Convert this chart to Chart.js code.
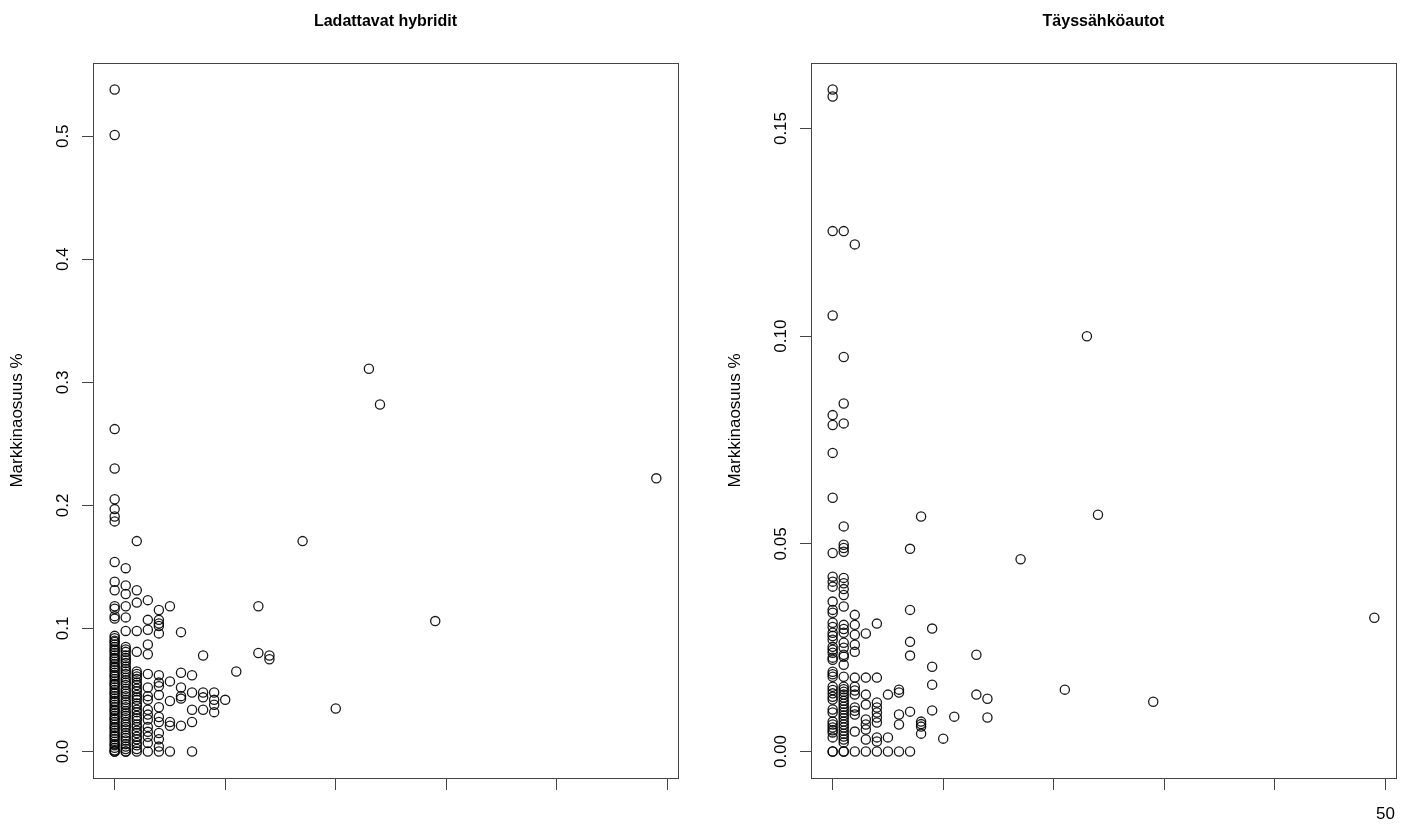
<!DOCTYPE html>
<html>
<head>
<meta charset="utf-8">
<script src="https://cdn.jsdelivr.net/npm/chart.js@4.4.0/dist/chart.umd.min.js"></script>
<style>
html, body { margin: 0; padding: 0; background: #fff; overflow: hidden; }
canvas { position: absolute; top: 0; }
#c1 { left: 0; }
#c2 { left: 718px; }
</style>
</head>
<body>
<canvas id="c1" width="705" height="829"></canvas>
<canvas id="c2" width="693" height="829"></canvas>
<script>
// Ladattavat hybridit: [x, markkinaosuus %]
const phevData = [
    [0, 0.538], [0, 0.501], [0, 0.262], [0, 0.230], [0, 0.205], [0, 0.197], [0, 0.191], [0, 0.187],
    [0, 0.154], [0, 0.138], [0, 0.131], [0, 0.118], [0, 0.116], [0, 0.110], [0, 0.108],
    [0, 0.094], [0, 0.092], [0, 0.090], [0, 0.089], [0, 0.087], [0, 0.085], [0, 0.083], [0, 0.082],
    [0, 0.080], [0, 0.078], [0, 0.076], [0, 0.075], [0, 0.073], [0, 0.071], [0, 0.069], [0, 0.068],
    [0, 0.066], [0, 0.064], [0, 0.062], [0, 0.061], [0, 0.059], [0, 0.057], [0, 0.055], [0, 0.054],
    [0, 0.052], [0, 0.050], [0, 0.048], [0, 0.047], [0, 0.045], [0, 0.043], [0, 0.041], [0, 0.040],
    [0, 0.038], [0, 0.036], [0, 0.034], [0, 0.033], [0, 0.031], [0, 0.029], [0, 0.027], [0, 0.026],
    [0, 0.024], [0, 0.022], [0, 0.020], [0, 0.019], [0, 0.017], [0, 0.015], [0, 0.013], [0, 0.012],
    [0, 0.010], [0, 0.008], [0, 0.006], [0, 0.005], [0, 0.003], [0, 0.001], [0, 0], [0, 0],
    [1, 0.149], [1, 0.135], [1, 0.128], [1, 0.118], [1, 0.109], [1, 0.098],
    [1, 0.085], [1, 0.083], [1, 0.081], [1, 0.078], [1, 0.076], [1, 0.074], [1, 0.072], [1, 0.069],
    [1, 0.067], [1, 0.065], [1, 0.063], [1, 0.060], [1, 0.058], [1, 0.056], [1, 0.054], [1, 0.051],
    [1, 0.049], [1, 0.047], [1, 0.045], [1, 0.042], [1, 0.040], [1, 0.038], [1, 0.036], [1, 0.033],
    [1, 0.031], [1, 0.029], [1, 0.027], [1, 0.024], [1, 0.022], [1, 0.020], [1, 0.018], [1, 0.015],
    [1, 0.013], [1, 0.011], [1, 0.009], [1, 0.006], [1, 0.004], [1, 0.002], [1, 0], [1, 0],
    [2, 0.171], [2, 0.131], [2, 0.121], [2, 0.098], [2, 0.081],
    [2, 0.065], [2, 0.063], [2, 0.061], [2, 0.059], [2, 0.056], [2, 0.054], [2, 0.051], [2, 0.049],
    [2, 0.046], [2, 0.044], [2, 0.042], [2, 0.039], [2, 0.037], [2, 0.034], [2, 0.032], [2, 0.029],
    [2, 0.027], [2, 0.025], [2, 0.022], [2, 0.020], [2, 0.017], [2, 0.015], [2, 0.012], [2, 0.010],
    [2, 0.007], [2, 0.005], [2, 0.002], [2, 0],
    [3, 0.123], [3, 0.107], [3, 0.099], [3, 0.087], [3, 0.079], [3, 0.063], [3, 0.052], [3, 0.045],
    [3, 0.042], [3, 0.034], [3, 0.030], [3, 0.026], [3, 0.020], [3, 0.016], [3, 0.012], [3, 0.007], [3, 0],
    [4, 0.115], [4, 0.107], [4, 0.104], [4, 0.102], [4, 0.096], [4, 0.062], [4, 0.056], [4, 0.053],
    [4, 0.046], [4, 0.036], [4, 0.028], [4, 0.024], [4, 0.015], [4, 0.010], [4, 0.004], [4, 0],
    [5, 0.118], [5, 0.057], [5, 0.041], [5, 0.024], [5, 0.021], [5, 0],
    [6, 0.097], [6, 0.064], [6, 0.052], [6, 0.045], [6, 0.043], [6, 0.021],
    [7, 0.062], [7, 0.048], [7, 0.034], [7, 0.024], [7, 0],
    [8, 0.078], [8, 0.048], [8, 0.044], [8, 0.034],
    [9, 0.048], [9, 0.042], [9, 0.038], [9, 0.032],
    [10, 0.042], [11, 0.065], [13, 0.118], [13, 0.080], [14, 0.078], [14, 0.075],
    [17, 0.171], [20, 0.035], [23, 0.311], [24, 0.282], [29, 0.106], [49, 0.222]
];

// Täyssähköautot: [x, markkinaosuus %]
const bevData = [
    [0, 0.1594], [0, 0.1577], [0, 0.1253], [0, 0.1050], [0, 0.0810], [0, 0.0786], [0, 0.0719], [0, 0.0611],
    [0, 0.0478], [0, 0.0421], [0, 0.0409], [0, 0.0397], [0, 0.0361], [0, 0.0341], [0, 0.0334], [0, 0.0310],
    [0, 0.0300], [0, 0.0286], [0, 0.0278], [0, 0.0269], [0, 0.0252], [0, 0.0245], [0, 0.0238], [0, 0.0226],
    [0, 0.0221], [0, 0.0192], [0, 0.0186], [0, 0.0180], [0, 0.0156], [0, 0.0148], [0, 0.0140], [0, 0.0132],
    [0, 0.0125], [0, 0.0101], [0, 0.0094], [0, 0.0072], [0, 0.0065], [0, 0.0058], [0, 0.0051], [0, 0.0046],
    [0, 0.0034], [0, 0], [0, 0],
    [1, 0.1253], [1, 0.0950], [1, 0.0838], [1, 0.0790], [1, 0.0542], [1, 0.0498], [1, 0.0490], [1, 0.0481],
    [1, 0.0418], [1, 0.0405], [1, 0.0391], [1, 0.0377], [1, 0.0349], [1, 0.0305], [1, 0.0295], [1, 0.0286],
    [1, 0.0262], [1, 0.0250], [1, 0.0233], [1, 0.0228], [1, 0.0209], [1, 0.0180], [1, 0.0156], [1, 0.0150],
    [1, 0.0144], [1, 0.0137], [1, 0.0130], [1, 0.0122], [1, 0.0115], [1, 0.0108], [1, 0.0101], [1, 0.0094],
    [1, 0.0087], [1, 0.0080], [1, 0.0072], [1, 0.0065], [1, 0.0058], [1, 0.0050], [1, 0.0043], [1, 0.0036],
    [1, 0.0029], [1, 0.0022], [1, 0], [1, 0],
    [2, 0.1221], [2, 0.0329], [2, 0.0305], [2, 0.0281], [2, 0.0257], [2, 0.0240], [2, 0.0178], [2, 0.0156],
    [2, 0.0147], [2, 0.0137], [2, 0.0106], [2, 0.0098], [2, 0.0089], [2, 0.0048], [2, 0],
    [3, 0.0284], [3, 0.0178], [3, 0.0137], [3, 0.0113], [3, 0.0077], [3, 0.0065], [3, 0.0053], [3, 0.0029], [3, 0],
    [4, 0.0308], [4, 0.0178], [4, 0.0118], [4, 0.0106], [4, 0.0094], [4, 0.0082], [4, 0.0070], [4, 0.0034],
    [4, 0.0024], [4, 0],
    [5, 0.0137], [5, 0.0034], [5, 0],
    [6, 0.0149], [6, 0.0142], [6, 0.0089], [6, 0.0065], [6, 0],
    [7, 0.0488], [7, 0.0341], [7, 0.0264], [7, 0.0231], [7, 0.0096], [7, 0],
    [8, 0.0566], [8, 0.0072], [8, 0.0066], [8, 0.0060], [8, 0.0043],
    [9, 0.0296], [9, 0.0204], [9, 0.0161], [9, 0.0099],
    [10, 0.0031], [11, 0.0084], [13, 0.0233], [13, 0.0137], [14, 0.0127], [14, 0.0082],
    [17, 0.0463], [21, 0.0149], [23, 0.1000], [24, 0.0570], [29, 0.0120], [49, 0.0322]
];

const xTicks = [0, 10, 20, 30, 40, 50];
const phevXLabels = ['', '', '', '', '', ''];
const bevXLabels = ['', '', '', '', '', '50'];
const phevYTicks = [0, 0.1, 0.2, 0.3, 0.4, 0.5];
const phevYLabels = ['0.0', '0.1', '0.2', '0.3', '0.4', '0.5'];
const bevYTicks = [0, 0.05, 0.10, 0.15];
const bevYLabels = ['0.00', '0.05', '0.10', '0.15'];

const FONT = '"Liberation Sans", Arial, Helvetica, sans-serif';

// laatikko, otsikko, pystyakselin tekstit (R-tyyli, kierretty)
const rPlot = {
    id: 'rPlot',
    afterDraw(chart, args, opts) {
        const ctx = chart.ctx;
        const a = chart.chartArea;
        const ys = chart.scales.y;
        ctx.save();
        ctx.strokeStyle = '#444';
        ctx.lineWidth = 1;
        ctx.strokeRect(Math.round(a.left) + 0.5, Math.round(a.top) + 0.5,
            Math.round(a.right - a.left), Math.round(a.bottom - a.top));

        ctx.fillStyle = '#000';
        ctx.textAlign = 'center';
        ctx.textBaseline = 'middle';
        ctx.font = 'bold 16px ' + FONT;
        ctx.fillText(opts.title, (a.left + a.right) / 2, 22);

        ctx.font = '17px ' + FONT;
        opts.yTicks.forEach(function (v, i) {
            ctx.save();
            ctx.translate(63, ys.getPixelForValue(v));
            ctx.rotate(-Math.PI / 2);
            ctx.fillText(opts.yLabels[i], 0, 0);
            ctx.restore();
        });

        ctx.save();
        ctx.translate(17, (a.top + a.bottom) / 2);
        ctx.rotate(-Math.PI / 2);
        ctx.fillText('Markkinaosuus %', 0, 0);
        ctx.restore();
        ctx.restore();
    }
};

function makeChart(id, data, title, ymin, ymax, yTicks, yLabels, xLabels, rightPad) {
    var ctx = document.getElementById(id).getContext('2d');
    return new Chart(ctx, {
        type: 'scatter',
        data: {
            datasets: [{
                data: data.map(function (p) { return { x: p[0], y: p[1] }; }),
                pointStyle: 'circle',
                pointRadius: 4.6,
                pointHoverRadius: 4.6,
                borderWidth: 1.3,
                borderColor: 'rgba(0, 0, 0, 0.9)',
                backgroundColor: 'rgba(0, 0, 0, 0)'
            }]
        },
        options: {
            responsive: false,
            animation: false,
            layout: { padding: { top: 63, right: rightPad, left: 0, bottom: 0 } },
            scales: {
                x: {
                    type: 'linear',
                    min: -1.96,
                    max: 50.96,
                    afterBuildTicks: function (s) { s.ticks = xTicks.map(function (v) { return { value: v }; }); },
                    afterFit: function (s) { s.height = 51; },
                    grid: { drawOnChartArea: false, drawTicks: true, tickLength: 12, color: '#444' },
                    border: { display: true, color: '#444' },
                    ticks: {
                        padding: 14,
                        color: '#000',
                        font: { family: FONT, size: 17 },
                        maxRotation: 0,
                        autoSkip: false,
                        callback: function (v) { var i = xTicks.indexOf(v); return i >= 0 ? xLabels[i] : ''; }
                    }
                },
                y: {
                    type: 'linear',
                    min: ymin,
                    max: ymax,
                    afterBuildTicks: function (s) { s.ticks = yTicks.map(function (v) { return { value: v }; }); },
                    afterFit: function (s) { s.width = 93; },
                    grid: { drawOnChartArea: false, drawTicks: true, tickLength: 11, color: '#444' },
                    border: { display: true, color: '#444' },
                    ticks: { display: false }
                }
            },
            plugins: {
                legend: { display: false },
                tooltip: { enabled: false },
                rPlot: { title: title, yTicks: yTicks, yLabels: yLabels }
            }
        },
        plugins: [rPlot]
    });
}

makeChart('c1', phevData, 'Ladattavat hybridit', -0.02152, 0.55952, phevYTicks, phevYLabels, phevXLabels, 27);
makeChart('c2', bevData, 'Täyssähköautot', -0.006376, 0.165776, bevYTicks, bevYLabels, bevXLabels, 15);
</script>
</body>
</html>
